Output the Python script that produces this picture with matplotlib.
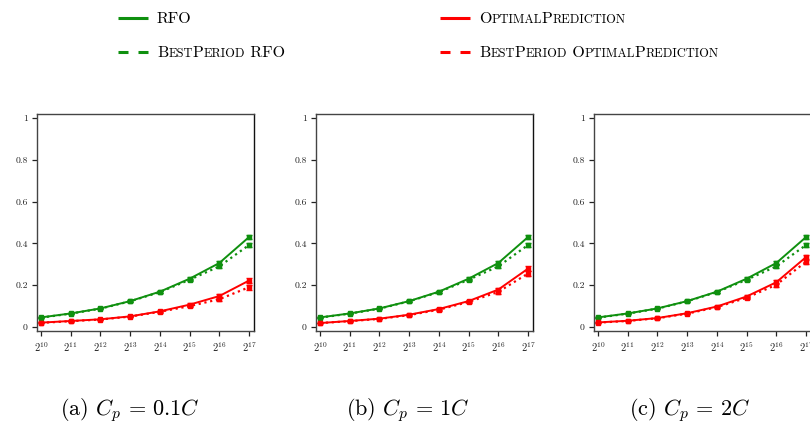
import matplotlib
matplotlib.use("Agg")
import matplotlib.pyplot as plt
from matplotlib.lines import Line2D
import numpy as np

plt.rcParams['mathtext.fontset'] = 'cm'
plt.rcParams['font.family'] = ['cmr10', 'DejaVu Serif']
plt.rcParams['axes.unicode_minus'] = False

# ---- data ----
exponents = [10, 11, 12, 13, 14, 15, 16, 17]
x_labels = [r'$2^{%d}$' % e for e in exponents]
y_ticks = [0, 0.2, 0.4, 0.6, 0.8, 1]
y_labels = ['0', '0.2', '0.4', '0.6', '0.8', '1']
captions = [r'(a) $C_p\,=\,0.1C$', r'(b) $C_p\,=\,1C$', r'(c) $C_p\,=\,2C$']

rfo = [0.046, 0.065, 0.089, 0.124, 0.169, 0.231, 0.306, 0.430]
bp_rfo = [0.045, 0.064, 0.088, 0.123, 0.167, 0.226, 0.290, 0.392]
rfo_err = [0.002, 0.002, 0.002, 0.003, 0.004, 0.006, 0.008, 0.009]

op_a = [0.021, 0.029, 0.037, 0.051, 0.075, 0.107, 0.148, 0.222]
bp_op_a = [0.020, 0.028, 0.036, 0.050, 0.073, 0.100, 0.133, 0.190]
op_b = [0.019, 0.029, 0.040, 0.059, 0.086, 0.124, 0.179, 0.279]
bp_op_b = [0.019, 0.028, 0.039, 0.057, 0.083, 0.120, 0.168, 0.256]
op_c = [0.022, 0.030, 0.043, 0.066, 0.098, 0.146, 0.214, 0.334]
bp_op_c = [0.021, 0.029, 0.042, 0.064, 0.095, 0.140, 0.202, 0.312]
op_err = [0.002, 0.002, 0.002, 0.003, 0.004, 0.006, 0.009, 0.012]

panels = [(op_a, bp_op_a), (op_b, bp_op_b), (op_c, bp_op_c)]

GREEN = '#0f900f'
RED = '#ff0000'

W, H = 810, 426
fig = plt.figure(figsize=(W / 100, H / 100), dpi=100)

def px_box(l, t, r, b):
    return [l / W, 1 - b / H, (r - l) / W, (b - t) / H]

axes_px = [(37, 114, 254, 331), (316, 114, 533, 331), (594, 114, 811, 331)]
cap_x = [130, 408, 690]

for i, (op, bpop) in enumerate(panels):
    ax = fig.add_axes(px_box(*axes_px[i]))
    ax.errorbar(exponents, bp_rfo, yerr=rfo_err, color=GREEN, ls=':', lw=1.6,
                capsize=2.2, elinewidth=1.0, capthick=1.0, marker='s', ms=3)
    ax.errorbar(exponents, rfo, yerr=rfo_err, color=GREEN, ls='-', lw=1.4,
                capsize=2.2, elinewidth=1.0, capthick=1.0, marker='s', ms=3)
    ax.errorbar(exponents, bpop, yerr=op_err, color=RED, ls=':', lw=1.6,
                capsize=2.2, elinewidth=1.0, capthick=1.0, marker='s', ms=3)
    ax.errorbar(exponents, op, yerr=op_err, color=RED, ls='-', lw=1.4,
                capsize=2.2, elinewidth=1.0, capthick=1.0, marker='s', ms=3)
    ax.set_xlim(9.865, 17.17)
    ax.set_ylim(-0.019, 1.019)
    ax.set_xticks(exponents)
    ax.set_xticklabels(x_labels)
    ax.set_yticks(y_ticks)
    ax.set_yticklabels(y_labels)
    ax.tick_params(axis='both', direction='out', length=3.5, width=0.9,
                   colors='#222222', pad=3)
    ax.tick_params(axis='x', labelsize=7.5)
    ax.tick_params(axis='y', labelsize=7)
    for s in ax.spines.values():
        s.set_color('#444444')
        s.set_linewidth(1.0)
    ax.spines['right'].set_color('#111111')
    fig.text(cap_x[i] / W, 1 - 410 / H, captions[i], fontsize=16,
             ha='center', va='center')

# ---- manual legend with small caps ----
renderer = fig.canvas.get_renderer()
BIG = 11.5
SMALL = BIG * 0.78

def smallcaps(x_px, y_px, s):
    runs = []
    for ch in s:
        small = ch.islower()
        if runs and runs[-1][1] == small:
            runs[-1][0] += ch
        else:
            runs.append([ch, small])
    x = x_px
    for txt, small in runs:
        t = fig.text(x / W, 1 - y_px / H, txt.upper(),
                     fontsize=SMALL if small else BIG, ha='left', va='baseline')
        bb = t.get_window_extent(renderer=renderer)
        x += bb.width

legend_items = [
    (118, 18, GREEN, '-', 'RFO'),
    (118, 52, GREEN, '--', 'BestPeriod RFO'),
    (440, 18, RED, '-', 'OptimalPrediction'),
    (440, 52, RED, '--', 'BestPeriod OptimalPrediction'),
]
LW = 2.2
for x0, y0, col, ls, lab in legend_items:
    ln = Line2D([x0 / W, (x0 + 30) / W], [1 - y0 / H, 1 - y0 / H],
                transform=fig.transFigure, color=col, lw=LW, solid_capstyle='butt',
                dash_capstyle='butt')
    if ls == '--':
        d = 7.2 / LW
        ln.set_dashes((d, d))
    fig.add_artist(ln)
    smallcaps(x0 + 39, y0 + 5, lab)

fig.savefig('out.png', dpi=100)
